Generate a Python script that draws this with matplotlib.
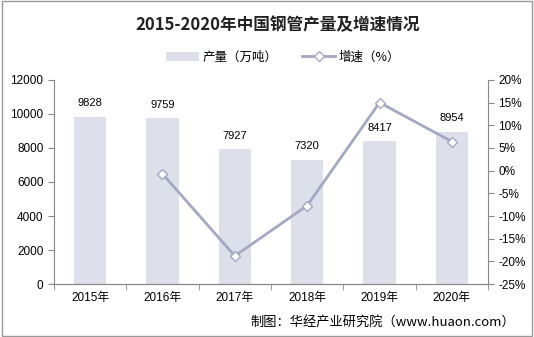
import matplotlib
matplotlib.use("Agg")
import numpy as np
import matplotlib.pyplot as plt
from matplotlib.lines import Line2D
from matplotlib.patches import Patch, Rectangle

plt.rcParams['font.family'] = ['Noto Sans CJK SC', 'DejaVu Sans']

years = ['2015年', '2016年', '2017年', '2018年', '2019年', '2020年']
output = [9828, 9759, 7927, 7320, 8417, 8954]
growth = [None, -0.7, -18.8, -7.7, 15.0, 6.4]

bar_color = '#DDE0EA'
line_color = '#A4A8C2'
axis_color = '#888888'

fig = plt.figure(figsize=(5.34, 3.37), dpi=100)
ax = fig.add_axes([0.101, 0.157, 0.813, 0.606])
ax2 = ax.twinx()

x = np.arange(len(years))
ax.bar(x, output, width=0.45, color=bar_color, zorder=1)
for xi, v in zip(x, output):
    ax.annotate(str(v), (xi, v), xytext=(0, 6), textcoords='offset points',
                ha='center', va='bottom', fontsize=8, family=['Liberation Sans', 'DejaVu Sans'])

gx = [xi for xi, g in zip(x, growth) if g is not None]
gy = [g for g in growth if g is not None]
ax2.plot(gx, gy, color=line_color, lw=2, marker='D', ms=5.5,
         mfc='white', mec=line_color, mew=1, zorder=3)

ax.set_xlim(-0.5, 5.5)
ax.set_ylim(0, 12000)
ax.set_yticks(range(0, 12001, 2000))
ax2.set_ylim(-25, 20)
ax2.set_yticks(range(-25, 21, 5))
ax2.set_yticklabels([f'{t}%' for t in range(-25, 21, 5)])

ax.set_xticks(x)
ax.set_xticklabels(years)
ax.set_xticks(np.arange(-0.5, 6, 1), minor=True)
ax.tick_params(axis='x', which='major', length=0, pad=6)
ax.tick_params(axis='x', which='minor', length=4, color=axis_color)

for a in (ax, ax2):
    a.spines['top'].set_visible(False)
    for s in ('left', 'right', 'bottom'):
        a.spines[s].set_color(axis_color)
    a.tick_params(axis='y', length=4, color=axis_color, labelsize=8.5)
    for lab in a.get_yticklabels() + a.get_xticklabels():
        lab.set_family(['Liberation Sans', 'Noto Sans CJK SC'])
ax.tick_params(axis='x', labelsize=8.5)
ax2.spines['left'].set_visible(False)
ax.spines['right'].set_visible(False)

fig.text(0.52, 0.925, '2015-2020年中国钢管产量及增速情况', ha='center', va='center',
         fontsize=12, fontweight='bold', color='#222222')

handles = [Patch(facecolor=bar_color, edgecolor='none'),
           Line2D([0], [0], color=line_color, lw=2, marker='D', ms=5,
                  mfc='white', mec=line_color)]
fig.legend(handles, ['产量（万吨）', '增速（%）'], loc='center', bbox_to_anchor=(0.53, 0.83),
           ncol=2, frameon=False, fontsize=9, handlelength=2.6, columnspacing=2.0,
           handletextpad=0.3)

fig.text(0.965, 0.045, '制图：华经产业研究院（www.huaon.com）', ha='right', va='center',
         fontsize=9.5)

fig.patches.append(Rectangle((0.003, 0.003), 0.994, 0.994, transform=fig.transFigure,
                             fill=False, edgecolor='#999999', lw=1))

fig.savefig('out.png', dpi=100)
